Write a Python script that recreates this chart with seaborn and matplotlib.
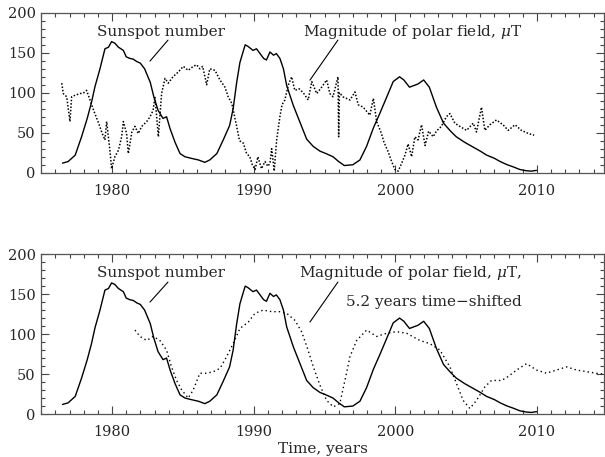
import numpy as np
import pandas as pd
import matplotlib
matplotlib.use("Agg")
import matplotlib.pyplot as plt
import seaborn as sns

# Sunspot number (smoothed)
ss_years = [1976.5, 1976.9, 1977.4, 1977.85, 1978.25, 1978.55, 1978.8, 1979.15, 1979.5, 1979.75,
            1979.97, 1980.2, 1980.45, 1980.8, 1981.0, 1981.25, 1981.5, 1981.75, 1982.0, 1982.3,
            1982.7, 1982.95, 1983.25, 1983.6, 1983.85, 1984.1, 1984.45, 1984.8, 1985.15, 1985.6,
            1986.1, 1986.55, 1986.9, 1987.4, 1987.85, 1988.3, 1988.55, 1988.8, 1989.03, 1989.4,
            1989.6, 1989.95, 1990.2, 1990.45, 1990.7, 1990.9, 1991.15, 1991.4, 1991.6, 1991.85,
            1992.1, 1992.33, 1992.8, 1993.27, 1993.74, 1994.2, 1994.68, 1995.1, 1995.6, 1996.0,
            1996.4, 1997.0, 1997.5, 1997.97, 1998.45, 1998.9, 1999.4, 1999.85, 2000.3, 2000.6,
            2001.0, 2001.3, 2001.6, 2002.0, 2002.4, 2002.9, 2003.4, 2003.9, 2004.3, 2004.9,
            2005.5, 2006.0, 2006.45, 2007.0, 2007.4, 2007.9, 2008.3, 2008.8, 2009.25, 2009.6,
            2009.97]
ss_vals = [12, 14, 22, 45, 68, 88, 108, 130, 155, 157,
           164, 162, 157, 153, 145, 143, 142, 139, 137, 130,
           113, 95, 78, 68, 70, 55, 38, 24, 20, 18,
           16, 13, 16, 24, 41, 59, 80, 113, 138, 160,
           158, 153, 155, 149, 143, 141, 151, 147, 149, 143,
           130, 109, 84, 63, 42, 33, 27, 24, 20, 14,
           9, 10, 16, 33, 56, 74, 95, 114, 120, 116,
           107, 109, 111, 116, 107, 82, 62, 52, 45, 38,
           32, 27, 22, 18, 14, 10, 7.5, 4, 2.5, 2, 3]

# Magnitude of polar field (top panel, raw)
pf_years = [1976.45, 1976.56, 1976.8, 1977.03, 1977.15, 1977.4, 1977.75, 1978.0, 1978.2, 1978.45,
            1978.7, 1979.05, 1979.27, 1979.5, 1979.62, 1979.85, 1979.97, 1980.2, 1980.45, 1980.68,
            1980.8, 1981.03, 1981.15, 1981.4, 1981.62, 1981.85, 1982.1, 1982.45, 1982.68, 1982.9,
            1983.03, 1983.27, 1983.5, 1983.74, 1983.97, 1984.3, 1984.68, 1985.03, 1985.38, 1985.73,
            1985.97, 1986.2, 1986.4, 1986.68, 1986.9, 1987.27, 1987.62, 1987.97, 1988.2, 1988.45,
            1988.8, 1989.0, 1989.27, 1989.5, 1989.73, 1989.9, 1990.1, 1990.3, 1990.55, 1990.8,
            1991.0, 1991.15, 1991.27, 1991.45, 1991.62, 1991.85, 1992.0, 1992.2, 1992.45, 1992.68,
            1992.9, 1993.2, 1993.5, 1993.85, 1994.1, 1994.45, 1994.8, 1995.15, 1995.38, 1995.6,
            1995.95, 1996.0, 1996.05, 1996.3, 1996.8, 1997.15, 1997.38, 1997.73, 1998.2, 1998.45,
            1998.68, 1999.0, 1999.2, 1999.5, 1999.74, 1999.97, 2000.2, 2000.45, 2000.68, 2000.9,
            2001.15, 2001.38, 2001.6, 2001.85, 2002.1, 2002.35, 2002.67, 2002.9, 2003.25, 2003.6,
            2003.85, 2004.2, 2004.55, 2005.03, 2005.5, 2005.73, 2006.08, 2006.32, 2006.67, 2007.14,
            2007.6, 2007.97, 2008.45, 2008.9, 2009.4, 2009.8]
pf_vals = [112, 99, 95, 64, 95, 97, 99, 100, 103, 91,
           78, 62, 51, 41, 64, 28, 5, 20, 28, 45,
           64, 49, 24, 51, 58, 49, 58, 64, 70, 78,
           95, 45, 99, 118, 112, 120, 126, 133, 128, 133,
           135, 130, 133, 110, 130, 128, 116, 107, 95, 87,
           58, 40, 37, 24, 20, 10, 4, 20, 5, 14,
           8, 12, 30, 2, 41, 70, 85, 91, 110, 120,
           103, 105, 100, 91, 114, 99, 107, 116, 99, 95,
           120, 45, 100, 95, 91, 101, 85, 82, 72, 93,
           64, 50, 38, 26, 14, 4, 2, 12, 22, 36,
           20, 45, 41, 60, 34, 52, 45, 52, 58, 70,
           74, 62, 58, 53, 62, 51, 82, 53, 60, 66,
           60, 53, 60, 53, 49, 47]

# Polar field, smoothed and shifted by 5.2 years (bottom panel)
sh_years = [1981.62, 1981.97, 1982.45, 1982.9, 1983.38, 1983.85, 1984.2, 1984.56, 1984.92, 1985.38,
            1985.73, 1986.2, 1986.67, 1987.15, 1987.62, 1988.1, 1988.55, 1989.03, 1989.62, 1990.1,
            1990.67, 1991.27, 1991.85, 1992.33, 1992.92, 1993.38, 1993.8, 1994.25, 1994.68, 1995.15,
            1995.62, 1996.08, 1996.44, 1996.8, 1997.27, 1997.97, 1998.68, 1999.38, 2000.09, 2000.8,
            2001.73, 2002.44, 2003.15, 2003.85, 2004.32, 2004.79, 2005.26, 2005.73, 2006.32, 2006.79,
            2007.5, 2007.97, 2008.56, 2009.26, 2009.97, 2010.67, 2011.38, 2012.09, 2012.8, 2013.5,
            2014.2, 2014.7]
sh_vals = [105, 97, 92, 97, 92, 80, 59, 42, 30, 20,
           30, 51, 51, 53, 57, 72, 88, 107, 115, 126,
           130, 128, 128, 126, 117, 103, 82, 57, 36, 17,
           9, 13, 42, 72, 92, 105, 97, 101, 103, 101,
           92, 88, 80, 59, 38, 17, 7, 17, 34, 42,
           42, 47, 55, 63, 55, 51, 55, 59, 55, 53,
           51, 50]

sunspot = pd.DataFrame({"year": ss_years, "value": ss_vals})
polar = pd.DataFrame({"year": pf_years, "value": pf_vals})
shifted = pd.DataFrame({"year": sh_years, "value": sh_vals})

sns.set_style("ticks")
plt.rcParams["font.family"] = ["DejaVu Serif"]
plt.rcParams["mathtext.fontset"] = "dejavuserif"

fig = plt.figure(figsize=(6.05, 4.57), dpi=100)
ax1 = fig.add_axes([0.0681, 0.622, 0.930, 0.350])
ax2 = fig.add_axes([0.0681, 0.094, 0.930, 0.350])

sns.lineplot(data=sunspot, x="year", y="value", ax=ax1, color="black", lw=1.0, estimator=None)
sns.lineplot(data=polar, x="year", y="value", ax=ax1, color="black", lw=1.1,
             linestyle=(0, (1, 1.2)), estimator=None)
sns.lineplot(data=sunspot, x="year", y="value", ax=ax2, color="black", lw=1.0, estimator=None)
sns.lineplot(data=shifted, x="year", y="value", ax=ax2, color="black", lw=1.0,
             linestyle=(0, (1, 2.2)), estimator=None)

for ax in (ax1, ax2):
    ax.set_xlim(1975, 2014.72)
    ax.set_ylim(0, 200)
    ax.set_xticks([1980, 1990, 2000, 2010])
    ax.set_xticks(np.arange(1975, 2015), minor=True)
    ax.set_yticks([0, 50, 100, 150, 200])
    ax.set_yticks(np.arange(0, 201, 10), minor=True)
    ax.tick_params(which="both", direction="in", top=True, right=True, color="#444444",
                   labelsize=10.5, width=0.8)
    ax.tick_params(which="major", length=6, pad=8)
    ax.tick_params(which="minor", length=3)
    ax.tick_params(axis="y", which="major", pad=4)
    for s in ax.spines.values():
        s.set_color("#555555")
        s.set_linewidth(0.9)
    ax.set_ylabel("")
    ax.set_xlabel("")

ax2.set_xlabel("Time, years", fontsize=11, labelpad=2)

line = dict(arrowstyle="-", color="black", lw=0.8, shrinkA=0, shrinkB=0)
ax1.text(0.099, 0.879, "Sunspot number", transform=ax1.transAxes, fontsize=11, va="center")
ax1.annotate("", xy=(0.1933, 0.698), xytext=(0.2253, 0.829), xycoords="axes fraction",
             textcoords="axes fraction", arrowprops=line)
ax1.text(0.465, 0.879, r"Magnitude of polar field, $\mu$T", transform=ax1.transAxes,
         fontsize=11, va="center")
ax1.annotate("", xy=(0.4776, 0.579), xytext=(0.5273, 0.829), xycoords="axes fraction",
             textcoords="axes fraction", arrowprops=line)

ax2.text(0.099, 0.881, "Sunspot number", transform=ax2.transAxes, fontsize=11, va="center")
ax2.annotate("", xy=(0.1933, 0.70), xytext=(0.2253, 0.825), xycoords="axes fraction",
             textcoords="axes fraction", arrowprops=line)
ax2.text(0.854, 0.881, r"Magnitude of polar field, $\mu$T,", transform=ax2.transAxes,
         fontsize=11, va="center", ha="right")
ax2.text(0.854, 0.70, "5.2 years time\u2212shifted", transform=ax2.transAxes,
         fontsize=11, va="center", ha="right")
ax2.annotate("", xy=(0.4776, 0.575), xytext=(0.5273, 0.825), xycoords="axes fraction",
             textcoords="axes fraction", arrowprops=line)

fig.savefig("out.png", dpi=100)
